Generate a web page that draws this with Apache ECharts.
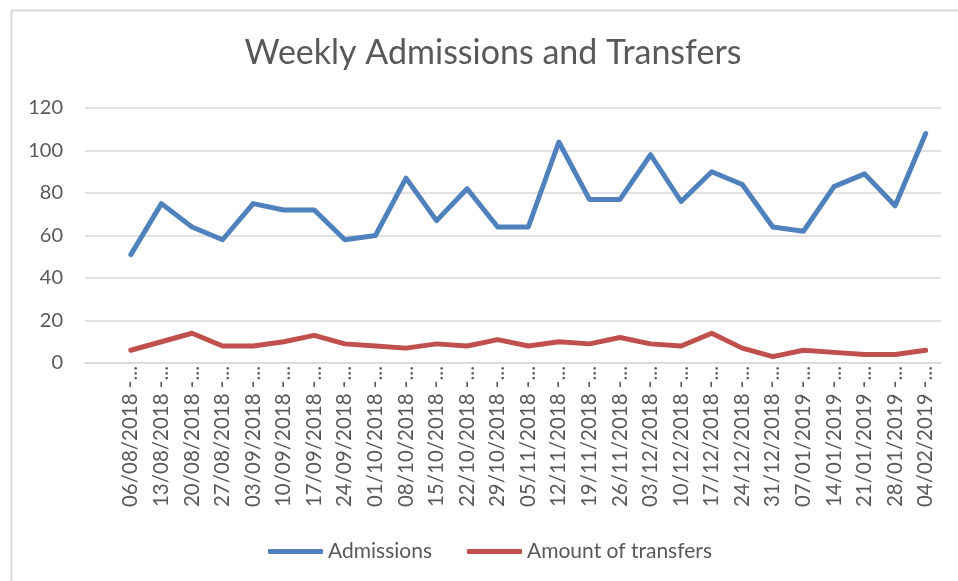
<!DOCTYPE html>
<html><head><meta charset="utf-8">
<script src="https://cdn.jsdelivr.net/npm/echarts@6/dist/echarts.min.js"></script>
<style>html,body{margin:0;padding:0;background:#fff}#c{width:958px;height:581px}</style>
</head><body><div id="c"></div>
<script>
// Week start dates (first category is an empty row in the source sheet)
const categories = ['', '06/08/2018', '13/08/2018', '20/08/2018', '27/08/2018', '03/09/2018', '10/09/2018',
  '17/09/2018', '24/09/2018', '01/10/2018', '08/10/2018', '15/10/2018', '22/10/2018', '29/10/2018',
  '05/11/2018', '12/11/2018', '19/11/2018', '26/11/2018', '03/12/2018', '10/12/2018', '17/12/2018',
  '24/12/2018', '31/12/2018', '07/01/2019', '14/01/2019', '21/01/2019', '28/01/2019', '04/02/2019'];
const admissions = [null, 51, 75, 64, 58, 75, 72, 72, 58, 60, 87, 67, 82, 64, 64,
  104, 77, 77, 98, 76, 90, 84, 64, 62, 83, 89, 74, 108];
const transfers = [null, 6, 10, 14, 8, 8, 10, 13, 9, 8, 7, 9, 8, 11, 8,
  10, 9, 12, 9, 8, 14, 7, 3, 6, 5, 4, 4, 6];
const yMin = 0, yMax = 120, yStep = 20;

const FONT = 'Lato, "Noto Sans", sans-serif';
const chart = echarts.init(document.getElementById('c'), null, {renderer: 'canvas'});
chart.setOption({
  backgroundColor: '#fff',
  animation: false,
  graphic: [{
    type: 'rect', left: 9, top: 8, silent: true,
    shape: {width: 1000, height: 1000},
    style: {fill: 'none', stroke: '#d9d9d9', lineWidth: 2}
  }],
  title: {
    text: 'Weekly Admissions and Transfers',
    left: 488, top: 31, textAlign: 'center',
    textStyle: {fontFamily: FONT, fontSize: 34, fontWeight: 'normal', color: '#595959'}
  },
  legend: {
    left: 263, top: 536, itemWidth: 55, itemHeight: 5, itemGap: 35,
    icon: 'roundRect',
    textStyle: {fontFamily: FONT, fontSize: 21, color: '#595959', padding: [0, 0, 0, 0]},
    data: ['Admissions', 'Amount of transfers']
  },
  grid: {left: 85, right: 17, top: 108, bottom: 218, containLabel: false},
  xAxis: {
    type: 'category', data: categories, boundaryGap: true,
    axisLine: {lineStyle: {color: '#d9d9d9', width: 1.5}},
    axisTick: {show: false},
    axisLabel: {
      interval: 0, rotate: 90, margin: 3, color: '#595959',
      fontFamily: FONT, fontSize: 20.5,
      formatter: v => v ? v + ' -...' : ''
    }
  },
  yAxis: {
    type: 'value', min: yMin, max: yMax, interval: yStep,
    axisLine: {show: false}, axisTick: {show: false},
    axisLabel: {color: '#595959', fontFamily: FONT, fontSize: 20, margin: 22},
    splitLine: {lineStyle: {color: '#d9d9d9', width: 1.5}}
  },
  series: [
    {name: 'Admissions', type: 'line', data: admissions, showSymbol: false, symbol: 'none',
      color: '#4F81BD', lineStyle: {width: 5, color: '#4F81BD', cap: 'round', join: 'round'}},
    {name: 'Amount of transfers', type: 'line', data: transfers, showSymbol: false, symbol: 'none',
      color: '#C0504D', lineStyle: {width: 5, color: '#C0504D', cap: 'round', join: 'round'}}
  ]
});
</script></body></html>
